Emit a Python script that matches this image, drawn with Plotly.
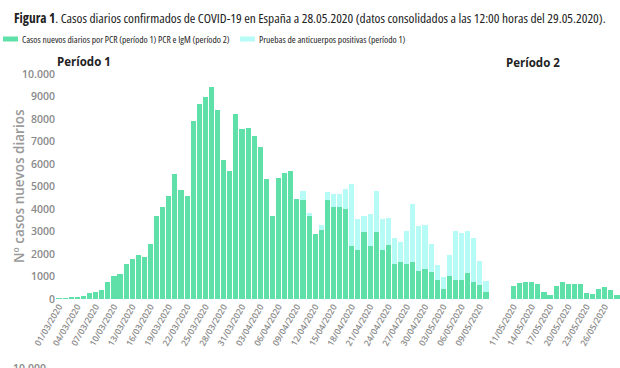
import datetime as dt
import plotly.graph_objects as go

# ---- data ----
p1_start = dt.date(2020, 3, 1)
p1_dates = [(p1_start + dt.timedelta(days=i)).strftime("%d/%m/%Y") for i in range(71)]
p2_start = dt.date(2020, 5, 11)
p2_dates = [(p2_start + dt.timedelta(days=i)).strftime("%d/%m/%Y") for i in range(18)]

pcr_p1 = [30, 35, 60, 85, 150, 250, 320, 385, 740, 1005,
          1125, 1555, 1775, 1955, 1880, 2445, 3700, 4090, 4565, 5570,
          4860, 4565, 7910, 8665, 8980, 9405, 8385, 6190, 5700, 8235,
          7540, 7600, 7245, 6770, 5335, 3690, 5380, 5585, 5700, 4445,
          4410, 3680, 2900, 3080, 4385, 4110, 4110, 4000, 2340, 2185,
          2960, 2370, 2960, 2160, 2410, 1555, 1630, 1540, 1660, 1260,
          1335, 1185, 860, 445, 1005, 860, 860, 1140, 770, 640, 310]
anticuerpos_p1 = [0] * 40 + [370, 140, 0, 220, 355, 570, 570, 890, 2770, 1370,
                             715, 1420, 1825, 1395, 1190, 1155, 885, 1495, 2575, 1970,
                             1965, 1275, 665, 520, 965, 2145, 2075, 1865, 1940, 1065, 475]
pcr_igm_p2 = [560, 710, 740, 740, 665, 295, 195, 560, 755, 650,
              665, 680, 265, 220, 445, 535, 415, 180]

y_tickvals = [0, 1000, 2000, 3000, 4000, 5000, 6000, 7000, 8000, 9000, 10000]
y_ticktext = ["0", "1000", "2000", "3000", "4000", "5000", "6000", "7000", "8000", "9000", "10.000"]
p1_ticks = p1_dates[::3]
p2_ticks = p2_dates[::3]

y_title = "Nº casos nuevos diarios"
legend_green = "Casos nuevos diarios por PCR (período 1) PCR e IgM (período 2)"
legend_cyan = "Pruebas de anticuerpos positivas (período 1)"

GREEN = "#5ee0a8"
CYAN = "#b6fbf5"
GREY = "#8a8a8a"

# ---- figure ----
fig = go.Figure()
fig.add_bar(x=p1_dates, y=pcr_p1, marker_color=GREEN, marker_line_width=0,
            xaxis="x", yaxis="y", name=legend_green, showlegend=False)
fig.add_bar(x=p1_dates, y=anticuerpos_p1, marker_color=CYAN, marker_line_width=0,
            xaxis="x", yaxis="y", name=legend_cyan, showlegend=False)
fig.add_bar(x=p2_dates, y=pcr_igm_p2, marker_color=GREEN, marker_line_width=0,
            xaxis="x2", yaxis="y", showlegend=False)

L, R, T, B = 56, 620, 74, 299
W, H = 620, 368


def px(x):
    return (x - L) / (R - L)


def py(y):
    return (B - y) / (B - T)


tickfont = dict(family="Open Sans, Lato, sans-serif", size=8.7, color=GREY, weight=600)

fig.update_layout(
    width=W, height=H,
    margin=dict(l=L, r=W - R, t=T, b=H - B, autoexpand=False),
    paper_bgcolor="white", plot_bgcolor="white",
    barmode="stack", bargap=0.16,
    xaxis=dict(domain=[0, px(489)], type="category", categoryorder="array",
               categoryarray=p1_dates, range=[-0.5, 70.5], automargin=False,
               tickmode="array", tickvals=p1_ticks, ticktext=p1_ticks,
               tickangle=-60, tickfont=tickfont, showgrid=False,
               showline=False, zeroline=False, ticks=""),
    xaxis2=dict(domain=[px(510.5), 1], type="category", categoryorder="array",
                categoryarray=p2_dates, range=[-0.5, 17.5], anchor="y", automargin=False,
                tickmode="array", tickvals=p2_ticks, ticktext=p2_ticks,
                tickangle=-60, tickfont=tickfont, showgrid=False,
                showline=False, zeroline=False, ticks=""),
    yaxis=dict(range=[0, 10000], tickmode="array", tickvals=y_tickvals,
               ticktext=y_ticktext, showgrid=False, zeroline=False,
               showline=False, ticks="", automargin=False,
               tickfont=dict(family="Open Sans, Lato, sans-serif", size=10.5,
                             color=GREY, weight=600)),
)

CS = '<span style="font-stretch:75%">'
cond = dict(family="Open Sans, sans-serif", color="#222")
annotations = [
    dict(text=CS + "<b>Figura 1</b>. Casos diarios confirmados de COVID-19 en España a 28.05.2020 "
              "(datos consolidados a las 12:00 horas del 29.05.2020).</span>",
         x=px(12), y=py(18), xanchor="left", yanchor="middle",
         font=dict(size=13.4, **cond)),
    dict(text=CS + legend_green + "</span>", x=px(20), y=py(39), xanchor="left", yanchor="middle",
         font=dict(size=9.5, **cond)),
    dict(text=CS + legend_cyan + "</span>", x=px(257), y=py(39), xanchor="left", yanchor="middle",
         font=dict(size=9.5, **cond)),
    dict(text="<b>Período 1</b>", x=px(55), y=py(61), xanchor="left", yanchor="middle",
         font=dict(family="Open Sans, Lato, sans-serif", size=11.5, color="#222")),
    dict(text="<b>Período 2</b>", x=px(504), y=py(62), xanchor="left", yanchor="middle",
         font=dict(family="Open Sans, Lato, sans-serif", size=11.5, color="#222")),
    dict(text=y_title, x=px(19), y=py(186), xanchor="center", yanchor="middle",
         textangle=-90,
         font=dict(family="Open Sans, Lato, sans-serif", size=13.5, color="#9a9a9a", weight=600)),
    dict(text="10.000", x=px(48), y=py(359), xanchor="right", yanchor="top",
         font=dict(family="Open Sans, Lato, sans-serif", size=10.5, color=GREY, weight=600)),
]
for a in annotations:
    a.update(xref="paper", yref="paper", showarrow=False)
fig.update_layout(annotations=annotations)

fig.add_shape(type="rect", xref="paper", yref="paper",
              x0=px(3), x1=px(18), y0=py(41.5), y1=py(36.5),
              fillcolor=GREEN, line_width=0)
fig.add_shape(type="rect", xref="paper", yref="paper",
              x0=px(240), x1=px(255), y0=py(41.5), y1=py(36.5),
              fillcolor=CYAN, line_width=0)

fig.write_html("out.html", config={"displayModeBar": False},
               post_script="document.body.style.margin='0';")
